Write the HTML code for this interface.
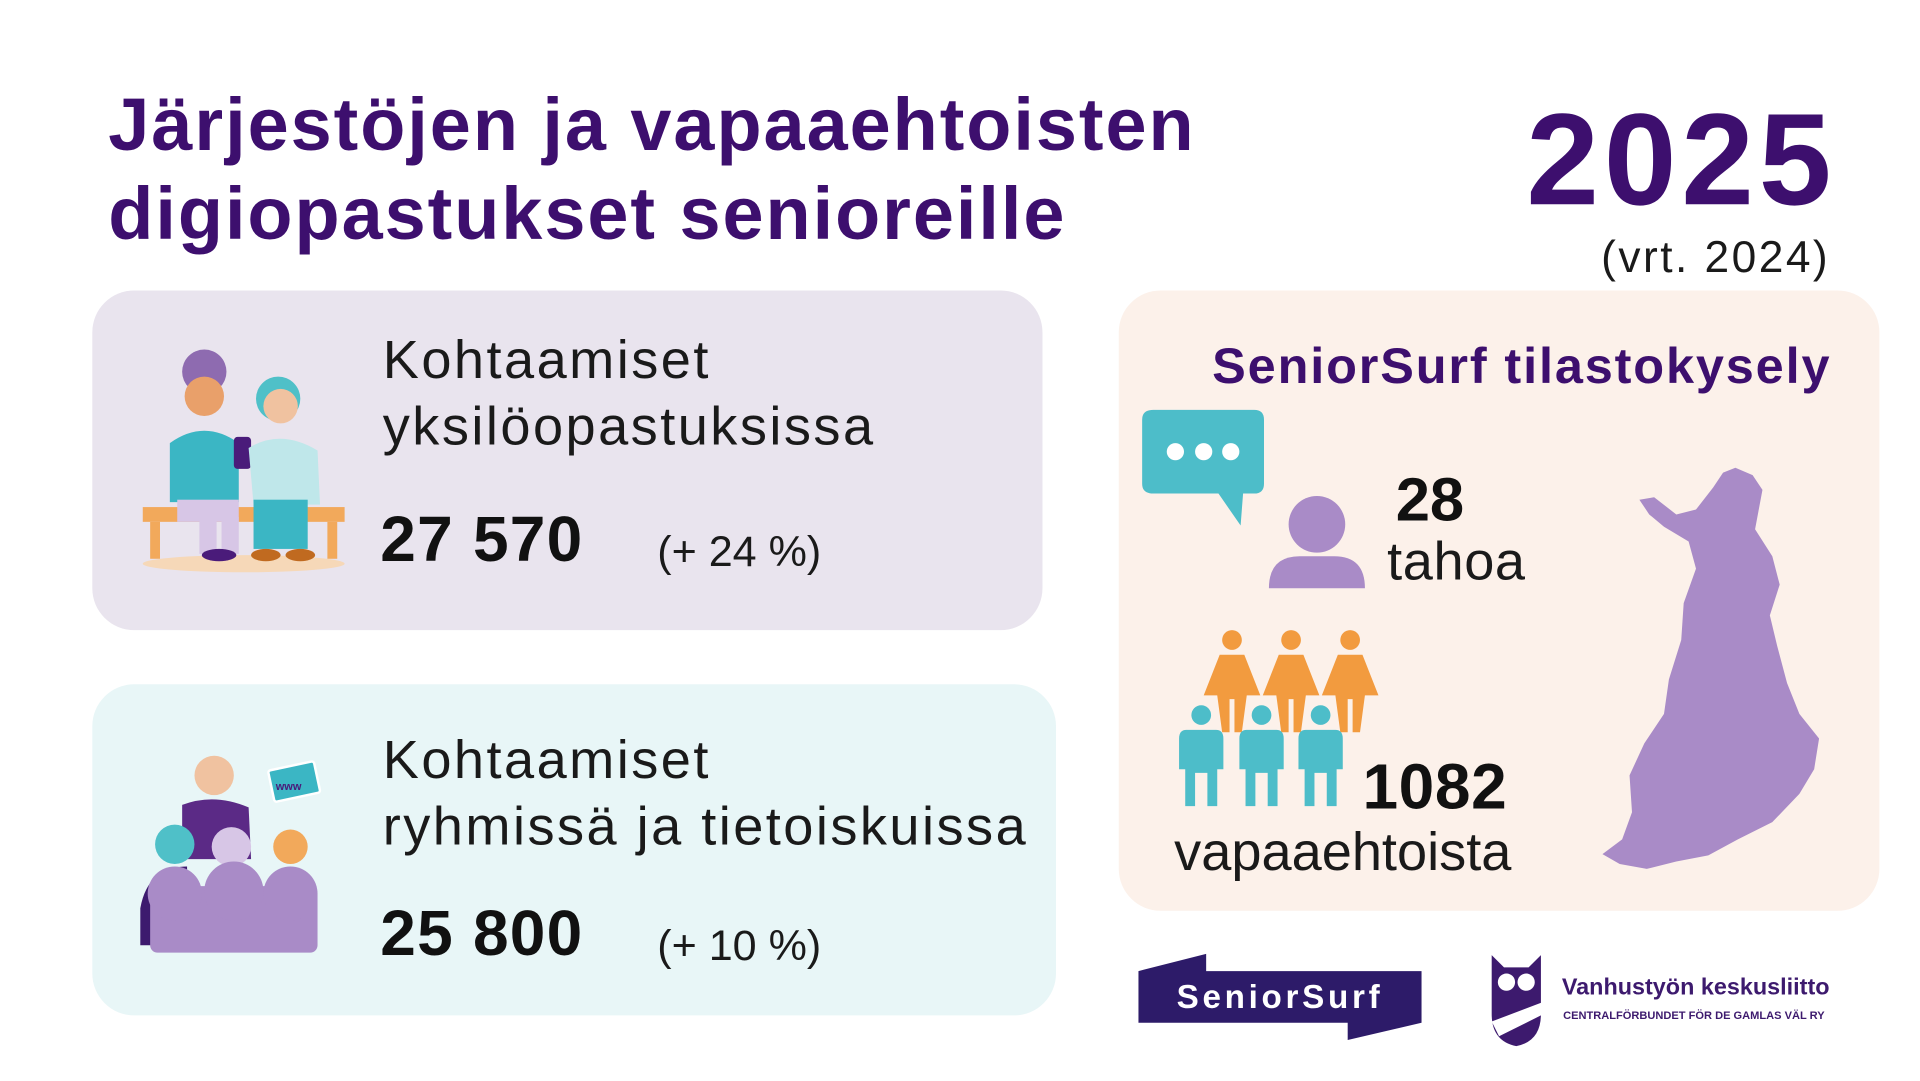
<!DOCTYPE html>
<html lang="fi">
<head>
<meta charset="utf-8">
<style>
html,body{margin:0;padding:0;width:1920px;height:1080px;overflow:hidden;background:#fff;}
#stage{position:absolute;left:0;top:0;width:1560px;height:878px;transform:scale(1.230769);transform-origin:0 0;font-family:"Liberation Sans","DejaVu Sans",sans-serif;}
.abs{position:absolute;white-space:nowrap;}
.title{left:88px;color:#3d0f6e;font-weight:bold;font-size:60px;line-height:72px;letter-spacing:1.6px;}
.card{position:absolute;border-radius:34px;}
.lbl{color:#1a1a1a;font-size:44px;line-height:54px;letter-spacing:2px;}
.big{color:#111;font-weight:bold;font-size:52px;letter-spacing:1px;}
.pct{color:#1a1a1a;font-size:35px;}
svg{position:absolute;overflow:visible;}
</style>
</head>
<body>
<div id="stage">
  <div class="abs title" style="top:66px">Järjestöjen ja vapaaehtoisten<br>digiopastukset senioreille</div>
  <div class="abs" style="right:68px;top:70px;font-size:106px;font-weight:bold;color:#3d0f6e;line-height:120px;letter-spacing:4px;">2025</div>
  <div class="abs" style="right:73px;top:188px;font-size:36px;letter-spacing:2px;color:#1a1a1a;">(vrt. 2024)</div>

  <div class="card" style="left:75px;top:236px;width:772px;height:276px;background:#e9e4ee;"></div>
  <svg style="left:110px;top:280px" width="180" height="190">
    <ellipse cx="88" cy="178" rx="82" ry="7" fill="#f6d8b8"/>
    <rect x="6" y="132" width="164" height="12" fill="#f2a95b"/>
    <rect x="12" y="144" width="8" height="30" fill="#f2a95b"/><rect x="156" y="144" width="8" height="30" fill="#f2a95b"/>
    <circle cx="56" cy="22" r="18" fill="#8e6bb0"/><circle cx="56" cy="42" r="16" fill="#e9a06a"/>
    <path d="M28 80 Q56 60 84 80 L84 128 L28 128Z" fill="#3bb6c4"/>
    <rect x="34" y="126" width="50" height="18" fill="#d7c6e6"/><rect x="52" y="140" width="14" height="30" fill="#d7c6e6"/><rect x="70" y="140" width="14" height="30" fill="#d7c6e6"/>
    <rect x="80" y="75" width="14" height="26" rx="3" fill="#4a1b7a"/>
    <circle cx="116" cy="44" r="18" fill="#4fc0c8"/><circle cx="118" cy="50" r="14" fill="#f0c2a0"/>
    <path d="M92 84 Q118 68 148 86 L150 130 L96 130Z" fill="#bfe7ea"/>
    <rect x="96" y="126" width="44" height="40" fill="#3bb6c4"/>
    <ellipse cx="68" cy="171" rx="14" ry="5" fill="#4a1b7a"/><ellipse cx="106" cy="171" rx="12" ry="5" fill="#c06a20"/><ellipse cx="134" cy="171" rx="12" ry="5" fill="#c06a20"/>
  </svg>
  <div class="abs lbl" style="left:311px;top:266px">Kohtaamiset<br>yksilöopastuksissa</div>
  <div class="abs big" style="left:309px;top:409px">27 570</div>
  <div class="abs pct" style="left:534px;top:429px">(+ 24 %)</div>

  <div class="card" style="left:75px;top:556px;width:783px;height:269px;background:#e8f6f7;"></div>
  <svg style="left:112px;top:608px" width="160" height="170">
    <circle cx="62" cy="22" r="16" fill="#f0c2a0"/>
    <path d="M36 46 Q62 36 90 48 L92 90 L36 90Z" fill="#5b2a86"/>
    <rect x="108" y="14" width="38" height="26" rx="2" transform="rotate(-12 127 27)" fill="#3bb6c4" stroke="#fff" stroke-width="2"/>
    <text x="112" y="34" font-size="9" font-weight="bold" fill="#4a1b7a" font-family="Liberation Sans">www</text>
    <circle cx="30" cy="78" r="16" fill="#4fc0c8"/><circle cx="76" cy="80" r="16" fill="#d7c6e6"/><circle cx="124" cy="80" r="14" fill="#f2a95b"/>
    <path d="M2 130 Q8 96 40 96 L40 160 L2 160Z" fill="#3d1a6e"/>
    <rect x="10" y="112" width="136" height="54" rx="6" fill="#a98bc7"/>
    <circle cx="30" cy="118" r="22" fill="#a98bc7"/><circle cx="78" cy="116" r="24" fill="#a98bc7"/><circle cx="124" cy="118" r="22" fill="#a98bc7"/>
  </svg>
  <div class="abs lbl" style="left:311px;top:591px">Kohtaamiset<br>ryhmissä ja tietoiskuissa</div>
  <div class="abs big" style="left:309px;top:729px">25 800</div>
  <div class="abs pct" style="left:534px;top:749px">(+ 10 %)</div>

  <div class="card" style="left:909px;top:236px;width:618px;height:504px;background:#fcf1ea;"></div>
  <div class="abs" style="right:72px;top:274px;font-size:41px;font-weight:bold;color:#3d0f6e;letter-spacing:1.5px;">SeniorSurf tilastokysely</div>
  <svg style="left:0;top:0" width="1560" height="878">
    <path d="M937 333 H1019 Q1027 333 1027 341 V393 Q1027 401 1019 401 H1010 L1008 427 L990 401 H937 Q928 401 928 393 V341 Q928 333 937 333Z" fill="#4dbdc9"/>
    <circle cx="955" cy="367" r="7" fill="#fff"/><circle cx="978" cy="367" r="7" fill="#fff"/><circle cx="1000" cy="367" r="7" fill="#fff"/>
    <circle cx="1070" cy="426" r="23" fill="#a98bc7"/>
    <path d="M1031 478 Q1031 452 1056 452 H1084 Q1109 452 1109 478Z" fill="#a98bc7"/>
    <g fill="#f29b3f">
      <circle cx="1001" cy="520" r="8"/><path d="M991 532 H1011 L1024 565 H1013 L1009 595 H1003 V568 H999 V595 H993 L989 565 H978Z"/>
      <circle cx="1049" cy="520" r="8"/><path d="M1039 532 H1059 L1072 565 H1061 L1057 595 H1051 V568 H1047 V595 H1041 L1037 565 H1026Z"/>
      <circle cx="1097" cy="520" r="8"/><path d="M1087 532 H1107 L1120 565 H1109 L1105 595 H1099 V568 H1095 V595 H1089 L1085 565 H1074Z"/>
    </g>
    <g fill="#4dbdc9">
      <circle cx="976" cy="581" r="8"/><path d="M964 593 H988 Q994 593 994 600 V625 H989 V655 H981 V628 H971 V655 H963 V625 H958 V600 Q958 593 964 593Z"/>
      <circle cx="1025" cy="581" r="8"/><path d="M1013 593 H1037 Q1043 593 1043 600 V625 H1038 V655 H1030 V628 H1020 V655 H1012 V625 H1007 V600 Q1007 593 1013 593Z"/>
      <circle cx="1073" cy="581" r="8"/><path d="M1061 593 H1085 Q1091 593 1091 600 V625 H1086 V655 H1078 V628 H1068 V655 H1060 V625 H1055 V600 Q1055 593 1061 593Z"/>
    </g>
    <path d="M1410 380 L1424 386 L1432 398 L1426 430 L1440 452 L1446 475 L1438 500 L1444 525 L1452 555 L1462 580 L1478 600 L1474 625 L1462 645 L1440 668 L1412 682 L1388 695 L1362 700 L1338 706 L1316 702 L1302 694 L1318 682 L1326 660 L1324 630 L1336 604 L1352 580 L1356 552 L1366 520 L1368 490 L1378 462 L1372 440 L1352 428 L1340 418 L1332 406 L1344 404 L1362 418 L1378 414 L1392 396 L1400 384Z" fill="#a98bc7"/>
  </svg>
  <div class="abs" style="left:1134px;top:377px;font-size:50px;font-weight:bold;color:#111;">28</div>
  <div class="abs lbl" style="left:1127px;top:430px;letter-spacing:0.5px">tahoa</div>
  <div class="abs" style="left:1107px;top:610px;font-size:52px;font-weight:bold;color:#111;letter-spacing:0.5px;">1082</div>
  <div class="abs lbl" style="left:954px;top:666px;letter-spacing:0">vapaaehtoista</div>

  <svg style="left:925px;top:775px" width="232" height="72">
    <path d="M0 14 L55 0 L55 14 H230 V56 L170 70 V56 H0Z" fill="#2d1b69"/>
    <text x="115" y="44" text-anchor="middle" font-size="27" font-weight="bold" fill="#fff" letter-spacing="3" font-family="Liberation Sans">SeniorSurf</text>
  </svg>
  <svg style="left:1208px;top:776px" width="50" height="76">
    <path d="M4 0 L14 10 H34 L44 0 V48 Q44 70 24 74 Q4 70 4 48Z" fill="#3d1a6e"/>
    <circle cx="16" cy="22" r="7" fill="#fff"/><circle cx="32" cy="22" r="7" fill="#fff"/>
    <path d="M4 54 L46 38 L46 48 L10 66Z" fill="#fff"/>
  </svg>
  <div class="abs" style="left:1269px;top:792px;font-size:19px;font-weight:bold;color:#3d1a6e;">Vanhustyön keskusliitto</div>
  <div class="abs" style="left:1270px;top:820px;font-size:9px;font-weight:bold;color:#3d1a6e;letter-spacing:0;">CENTRALFÖRBUNDET FÖR DE GAMLAS VÄL RY</div>
</div>
</body>
</html>
